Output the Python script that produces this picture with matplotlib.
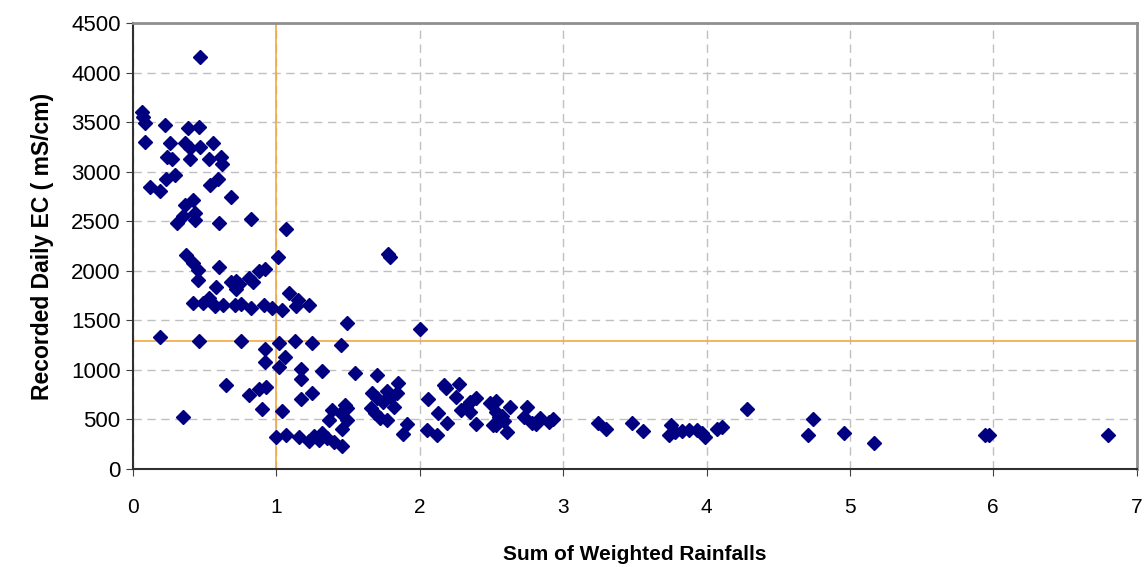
import matplotlib.pyplot as plt

# Sum of weighted rainfalls vs recorded daily EC
rain = [
    0.06, 0.07, 0.08, 0.08, 0.12, 0.19, 0.22, 0.23, 0.24, 0.26,
    0.27, 0.29, 0.31, 0.35, 0.36, 0.36, 0.38, 0.40, 0.40, 0.42,
    0.43, 0.43, 0.46, 0.47, 0.47, 0.53, 0.54, 0.56, 0.59, 0.60,
    0.61, 0.62, 0.68, 0.82, 1.07,
    0.37, 0.42, 0.45, 0.45, 0.60, 0.58, 0.68, 0.72, 0.74, 0.72,
    0.81, 0.84, 0.88, 0.92, 1.01,
    0.42, 0.49, 0.53, 0.57, 0.63, 0.71, 0.75, 0.82, 0.91, 0.97,
    1.04, 1.09, 1.15, 1.14, 1.23,
    0.19, 0.46, 0.75, 0.92, 1.02, 1.13, 1.25, 1.45, 0.92, 1.06,
    1.02, 1.17, 1.17, 1.32, 0.65, 0.81, 0.88, 0.93, 1.17, 1.25,
    0.90, 1.04, 0.35,
    1.00, 1.07, 1.16, 1.23, 1.26, 1.32, 1.30, 1.35, 1.40, 1.46,
    1.39, 1.45, 1.48, 1.49, 1.37, 1.49, 1.46,
    1.55, 1.70, 1.49, 1.78, 1.79, 2.00,
    1.67, 1.70, 1.66, 1.69, 1.72, 1.77, 1.74, 1.77, 1.80, 1.84,
    1.85, 1.82, 1.91, 1.88,
    2.06, 2.05, 2.12, 2.13, 2.19, 2.17, 2.18, 2.27, 2.25, 2.29,
    2.32, 2.35, 2.39, 2.35, 2.39, 2.49, 2.53, 2.51, 2.55,
    2.53, 2.57, 2.53, 2.61, 2.63, 2.59,
    2.75, 2.73, 2.78, 2.84, 2.81, 2.93, 2.90,
    3.24, 3.30, 3.48, 3.56,
    3.75, 3.74, 3.78, 3.83, 3.88, 3.93, 3.97, 3.99, 4.07, 4.11,
    4.28, 4.74, 4.71, 4.96, 5.17, 5.94, 5.97, 6.80,
]
ec = [
    3607, 3557, 3490, 3305, 2844, 2810, 3473, 2925, 3153, 3295,
    3130, 2968, 2480, 2554, 3288, 2665, 3440, 3238, 3127, 2716,
    2588, 2514, 3456, 3248, 4157, 3130, 2867, 3295, 2925, 2480,
    3153, 3079, 2743, 2527, 2423,
    2160, 2080, 2010, 1912, 2036, 1838, 1891, 1900, 1870, 1815,
    1925, 1890, 2000, 2019, 2140,
    1676, 1673, 1730, 1640, 1653, 1655, 1665, 1627, 1653, 1622,
    1608, 1780, 1706, 1640, 1652,
    1330, 1295, 1295, 1215, 1269, 1291, 1269, 1252, 1083, 1134,
    1027, 1006, 904, 989, 848, 747, 805, 831, 704, 767,
    603, 584, 522,
    320, 338, 323, 281, 328, 366, 293, 310, 276, 232,
    596, 562, 650, 495, 495, 620, 400,
    973, 949, 1471, 2170, 2140, 1413,
    764, 715, 613, 560, 512, 495, 680, 791, 730, 764,
    872, 629, 454, 353,
    704, 394, 343, 562, 467, 848, 820, 858, 724, 596,
    630, 680, 714, 579, 454, 663, 690, 444, 520,
    579, 530, 444, 377, 629, 480,
    623, 528, 467, 512, 450, 502, 470,
    467, 400, 467, 387,
    444, 343, 370, 387, 390, 394, 360, 320, 400, 427,
    603, 502, 343, 366, 259, 343, 343, 343,
]

x_ticks = [0, 1, 2, 3, 4, 5, 6, 7]
y_ticks = [0, 500, 1000, 1500, 2000, 2500, 3000, 3500, 4000, 4500]
x_mark = 1
y_mark = 1290

plt.rcParams['font.family'] = ['Liberation Sans', 'DejaVu Sans']

fig = plt.figure(figsize=(11.47, 5.67), dpi=100)
ax = fig.add_axes([0.116, 0.173, 0.875, 0.786])

ax.grid(True, color='#c0c0c0', linestyle=(0, (6, 4)), linewidth=1)
ax.set_axisbelow(True)

ax.axvline(x_mark, color='#f5a742', linewidth=1.2, zorder=2)
ax.axhline(y_mark, color='#f5a742', linewidth=1.2, zorder=2, clip_on=False)

ax.plot(rain, ec, linestyle='none', marker='D', markersize=7,
        color='#000080', zorder=3)

ax.set_xlim(0, 7)
ax.set_ylim(0, 4500)
ax.set_xticks(x_ticks)
ax.set_yticks(y_ticks)
ax.tick_params(axis='both', length=5, color='#404040')
ax.tick_params(axis='y', labelsize=16, pad=4)
ax.tick_params(axis='x', labelsize=15, pad=16)

for side in ['left', 'bottom']:
    ax.spines[side].set_color('#303030')
    ax.spines[side].set_linewidth(1.5)
for side in ['top', 'right']:
    ax.spines[side].set_color('#909090')
    ax.spines[side].set_linewidth(2)

ax.set_xlabel('Sum of Weighted Rainfalls', fontsize=15, fontweight='bold',
              labelpad=20)
ax.set_ylabel('Recorded Daily EC ( mS/cm)', fontsize=16.5, fontweight='bold',
              labelpad=12)

fig.savefig('out.png', dpi=100)
